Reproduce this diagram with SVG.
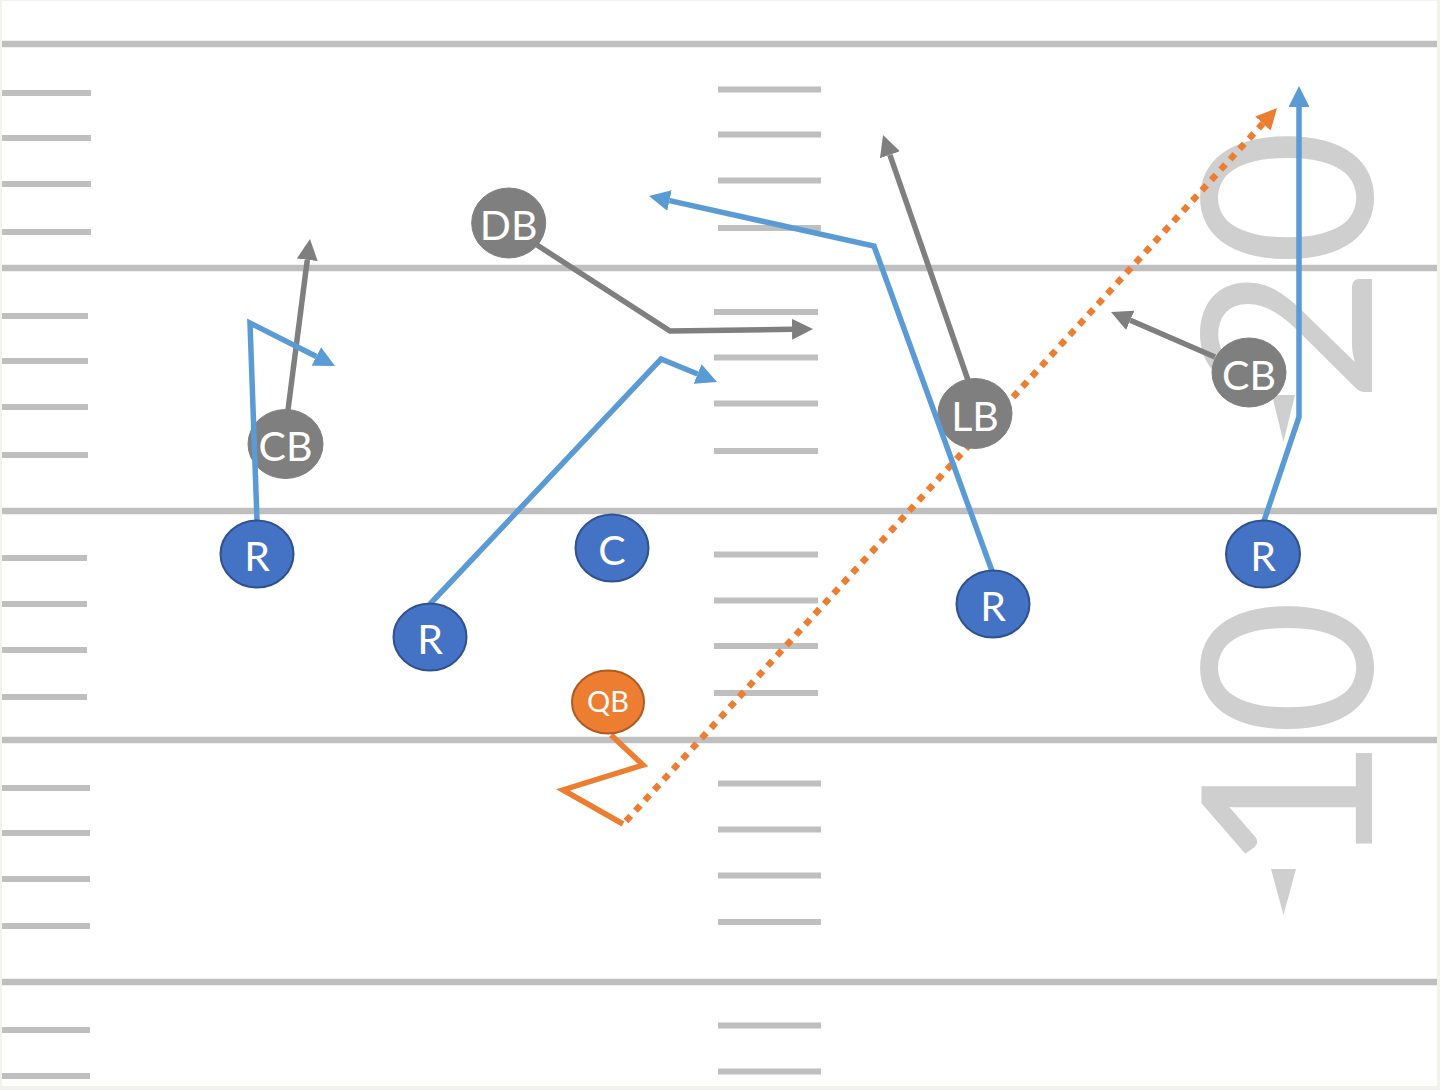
<svg xmlns="http://www.w3.org/2000/svg" width="1440" height="1090" viewBox="0 0 1440 1090">
  <style>
    .yard { stroke: #bfbfbf; stroke-width: 6.5; fill: none; }
    .hash { stroke: #bfbfbf; stroke-width: 6; fill: none; }
    .num { font-family: Lato, "Open Sans", "Liberation Sans", sans-serif; font-size: 236px; font-weight: 400; fill: #d0cfcf; text-anchor: middle; }
    .tri { fill: #d0cfcf; }
    .blue { stroke: #5b9bd5; stroke-width: 5.5; fill: none; stroke-linejoin: miter; }
    .grey { stroke: #7f7f7f; stroke-width: 5.5; fill: none; stroke-linejoin: miter; }
    .orange { stroke: #ed7d31; stroke-width: 5.5; fill: none; stroke-linejoin: miter; }
    .dotted { stroke: #ed7d31; stroke-width: 6.5; fill: none; stroke-dasharray: 7 7; }
    .off { fill: #4472c4; stroke: #2f528f; stroke-width: 2; }
    .def { fill: #7f7f7f; stroke: #7f7f7f; stroke-width: 1; }
    .qb { fill: #ed7d31; stroke: #ae5a21; stroke-width: 2; }
    .lbl { font-family: Lato, "Open Sans", "Liberation Sans", sans-serif; font-size: 41px; fill: #ffffff; text-anchor: middle; }
    .lblqb { font-family: Lato, "Open Sans", "Liberation Sans", sans-serif; font-size: 29px; fill: #ffffff; text-anchor: middle; }
  </style>
  <defs>
    <marker id="ab" markerUnits="userSpaceOnUse" markerWidth="21" markerHeight="21" refX="0" refY="10.5" orient="auto" viewBox="0 0 21 21">
      <path d="M0,0 L21,10.5 L0,21 z" fill="#5b9bd5"/>
    </marker>
    <marker id="ag" markerUnits="userSpaceOnUse" markerWidth="21" markerHeight="21" refX="0" refY="10.5" orient="auto" viewBox="0 0 21 21">
      <path d="M0,0 L21,10.5 L0,21 z" fill="#7f7f7f"/>
    </marker>
    <marker id="ao" markerUnits="userSpaceOnUse" markerWidth="21" markerHeight="21" refX="0" refY="10.5" orient="auto" viewBox="0 0 21 21">
      <path d="M0,0 L21,10.5 L0,21 z" fill="#ed7d31"/>
    </marker>
  </defs>

  <!-- background / frame -->
  <rect x="0" y="0" width="1440" height="1090" fill="#f3f3ee"/>
  <rect x="2" y="1" width="1435" height="1085" fill="#ffffff"/>

  <!-- field -->
  <g id="field">
    <g id="yard-lines">
      <line class="yard" x1="2" y1="44" x2="1437" y2="44"/>
      <line class="yard" x1="2" y1="268" x2="1437" y2="268"/>
      <line class="yard" x1="2" y1="511" x2="1437" y2="511"/>
      <line class="yard" x1="2" y1="740" x2="1437" y2="740"/>
      <line class="yard" x1="2" y1="982" x2="1437" y2="982"/>
    </g>
    <g id="left-hashes">
      <line class="hash" x1="2" y1="93" x2="91" y2="93"/>
      <line class="hash" x1="2" y1="138" x2="91" y2="138"/>
      <line class="hash" x1="2" y1="184" x2="91" y2="184"/>
      <line class="hash" x1="2" y1="232" x2="91" y2="232"/>
      <line class="hash" x1="2" y1="316" x2="88" y2="316"/>
      <line class="hash" x1="2" y1="361" x2="88" y2="361"/>
      <line class="hash" x1="2" y1="407" x2="88" y2="407"/>
      <line class="hash" x1="2" y1="455" x2="88" y2="455"/>
      <line class="hash" x1="2" y1="558" x2="87" y2="558"/>
      <line class="hash" x1="2" y1="604" x2="87" y2="604"/>
      <line class="hash" x1="2" y1="650" x2="87" y2="650"/>
      <line class="hash" x1="2" y1="697" x2="87" y2="697"/>
      <line class="hash" x1="2" y1="788" x2="90" y2="788"/>
      <line class="hash" x1="2" y1="833" x2="90" y2="833"/>
      <line class="hash" x1="2" y1="879" x2="90" y2="879"/>
      <line class="hash" x1="2" y1="926" x2="90" y2="926"/>
      <line class="hash" x1="2" y1="1030" x2="90" y2="1030"/>
      <line class="hash" x1="2" y1="1076" x2="90" y2="1076"/>
    </g>
    <g id="middle-hashes">
      <line class="hash" x1="718" y1="89.5" x2="821" y2="89.5"/>
      <line class="hash" x1="718" y1="134.5" x2="821" y2="134.5"/>
      <line class="hash" x1="718" y1="180.5" x2="821" y2="180.5"/>
      <line class="hash" x1="718" y1="228" x2="821" y2="228"/>
      <line class="hash" x1="714" y1="312" x2="818" y2="312"/>
      <line class="hash" x1="714" y1="357.5" x2="818" y2="357.5"/>
      <line class="hash" x1="714" y1="403.5" x2="818" y2="403.5"/>
      <line class="hash" x1="714" y1="451" x2="818" y2="451"/>
      <line class="hash" x1="714" y1="554.5" x2="818" y2="554.5"/>
      <line class="hash" x1="714" y1="600.5" x2="818" y2="600.5"/>
      <line class="hash" x1="714" y1="646" x2="818" y2="646"/>
      <line class="hash" x1="714" y1="693" x2="818" y2="693"/>
      <line class="hash" x1="718" y1="783.5" x2="821" y2="783.5"/>
      <line class="hash" x1="718" y1="829.5" x2="821" y2="829.5"/>
      <line class="hash" x1="718" y1="875.5" x2="821" y2="875.5"/>
      <line class="hash" x1="718" y1="922" x2="821" y2="922"/>
      <line class="hash" x1="718" y1="1025.5" x2="821" y2="1025.5"/>
      <line class="hash" x1="718" y1="1071.5" x2="821" y2="1071.5"/>
    </g>
    <g id="yard-numbers">
      <text class="num" transform="translate(1372 266) rotate(-90)">20</text>
      <text class="num" transform="translate(1372 736) rotate(-90)">10</text>
      <polygon class="tri" points="1272,395 1295,395 1283.5,442"/>
      <polygon class="tri" points="1271,869 1296,869 1283.5,915"/>
    </g>
  </g>

  <!-- QB route (behind defenders) -->
  <g id="connectors-qb">
    <polyline class="orange" points="611,735 643,765 563,790 623,824"/>
    <line class="dotted" x1="626" y1="821" x2="1262.9" y2="123.5" marker-end="url(#ao)"/>
  </g>

  <!-- defensive connectors -->
  <g id="connectors-defense">
    <line class="grey" x1="288" y1="410" x2="307.3" y2="259.8" marker-end="url(#ag)"/>
    <polyline class="grey" points="537,245 670,331 792,329.3" marker-end="url(#ag)"/>
    <line class="grey" x1="969" y1="383" x2="889.9" y2="154.8" marker-end="url(#ag)"/>
    <line class="grey" x1="1215" y1="357" x2="1130.3" y2="320.3" marker-end="url(#ag)"/>
  </g>

  <!-- defensive nodes -->
  <g id="node-CB1"><ellipse class="def" cx="285.5" cy="444" rx="37.5" ry="34.5"/><text class="lbl" x="285.5" y="461">CB</text></g>
  <g id="node-DB"><ellipse class="def" cx="508.7" cy="223" rx="37" ry="35"/><text class="lbl" x="508.7" y="240">DB</text></g>
  <g id="node-LB"><ellipse class="def" cx="975" cy="413.5" rx="37" ry="35"/><text class="lbl" x="975" y="431">LB</text></g>
  <g id="node-CB2"><ellipse class="def" cx="1249" cy="372.5" rx="37" ry="34.5"/><text class="lbl" x="1249" y="390">CB</text></g>

  <!-- offensive connectors -->
  <g id="connectors-offense">
    <polyline class="blue" points="257,520 250,323 316.3,356.5" marker-end="url(#ab)"/>
    <polyline class="blue" points="430,604 661,359 697.6,374" marker-end="url(#ab)"/>
    <polyline class="blue" points="992,571 874,246 669.5,200.6" marker-end="url(#ab)"/>
    <polyline class="blue" points="1264,521 1299,417 1299,107" marker-end="url(#ab)"/>
  </g>

  <!-- offensive nodes -->
  <g id="node-R1"><ellipse class="off" cx="257" cy="554" rx="36.5" ry="33.5"/><text class="lbl" x="257" y="571">R</text></g>
  <g id="node-R2"><ellipse class="off" cx="430" cy="637" rx="36.5" ry="33.5"/><text class="lbl" x="430" y="654">R</text></g>
  <g id="node-C"><ellipse class="off" cx="612" cy="548" rx="36.5" ry="33.5"/><text class="lbl" x="612" y="565">C</text></g>
  <g id="node-R3"><ellipse class="off" cx="993" cy="604" rx="36.5" ry="33.5"/><text class="lbl" x="993" y="621">R</text></g>
  <g id="node-R4"><ellipse class="off" cx="1263" cy="554" rx="37" ry="33.5"/><text class="lbl" x="1263" y="571">R</text></g>
  <g id="node-QB"><ellipse class="qb" cx="608" cy="702" rx="36" ry="31.5"/><text class="lblqb" x="608" y="712">QB</text></g>
</svg>
